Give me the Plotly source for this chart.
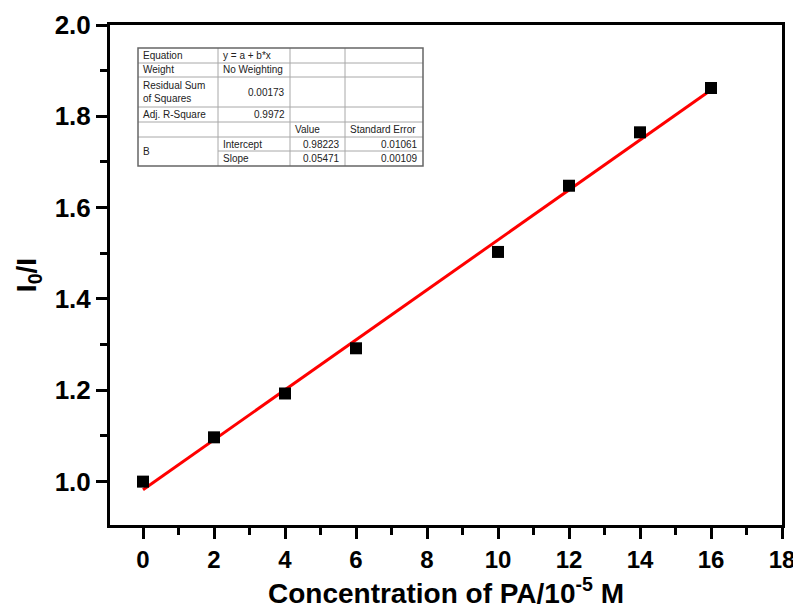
import plotly.graph_objects as go

conc = [0, 2, 4, 6, 10, 12, 14, 16]
ratio = [1.000, 1.097, 1.193, 1.292, 1.503, 1.648, 1.765, 1.862]
intercept = 0.98223
slope = 0.05471
fit_x = [0, 16]
fit_y = [intercept + slope * v for v in fit_x]

x_ticks = list(range(0, 19, 2))
y_ticks = [1.0, 1.2, 1.4, 1.6, 1.8, 2.0]

table_rows = [
    ["Equation", "y = a + b*x", "", ""],
    ["Weight", "No Weighting", "", ""],
    ["Residual Sum<br>of Squares", "0.00173", "", ""],
    ["Adj. R-Square", "0.9972", "", ""],
    ["", "", "Value", "Standard Error"],
    ["B", "Intercept", "0.98223", "0.01061"],
    ["", "Slope", "0.05471", "0.00109"],
]

# page body has an 8px margin: figure sized to fit the 801x609 window
OFF = 8
W, H = 801 - OFF, 609 - OFF
L, R, T, B = 110 - OFF, 782 - OFF, 25 - OFF, 525 - OFF

fig = go.Figure()
fig.add_trace(go.Scatter(x=fit_x, y=fit_y, mode="lines",
                         line=dict(color="#ff0000", width=3), showlegend=False))
fig.add_trace(go.Scatter(x=conc, y=ratio, mode="markers",
                         marker=dict(symbol="square", size=12, color="black"),
                         showlegend=False))

def px(xp):
    return (xp - OFF - L) / (R - L)

def py(yp):
    return (B - (yp - OFF)) / (B - T)

# table geometry (window pixels)
cols = [138, 218, 290, 345, 423]
rows = [48, 63, 77, 107, 122, 137, 151, 166]
shapes = []
grey = "#a8a8a8"
for i, yy in enumerate(rows[1:-1], start=1):
    x0 = cols[1] if i == 6 else cols[0]
    shapes.append(dict(type="line", xref="paper", yref="paper",
                       x0=px(x0), x1=px(cols[-1]), y0=py(yy), y1=py(yy),
                       line=dict(color=grey, width=1)))
for xx in cols[1:-1]:
    shapes.append(dict(type="line", xref="paper", yref="paper",
                       x0=px(xx), x1=px(xx), y0=py(rows[0]), y1=py(rows[-1]),
                       line=dict(color=grey, width=1)))
shapes.append(dict(type="rect", xref="paper", yref="paper",
                   x0=px(cols[0]), x1=px(cols[-1]), y0=py(rows[0]), y1=py(rows[-1]),
                   line=dict(color="#666666", width=1.5), fillcolor="rgba(0,0,0,0)"))

annotations = []
right_cells = {(2, 1), (3, 1), (5, 2), (6, 2), (5, 3), (6, 3)}
for r, row in enumerate(table_rows):
    for c, txt in enumerate(row):
        if not txt:
            continue
        if r == 5 and c == 0:
            yc = (rows[5] + rows[7]) / 2
        else:
            yc = (rows[r] + rows[r + 1]) / 2
        if (r, c) in right_cells:
            xa, anchor = cols[c + 1] - 3, "right"
        else:
            xa, anchor = cols[c] + 3, "left"
        annotations.append(dict(text=txt, xref="paper", yref="paper",
                                x=px(xa), y=py(yc), xanchor=anchor, yanchor="middle",
                                showarrow=False, align="left",
                                font=dict(family="Liberation Sans", size=10, color="#222222")))

fam = "Liberation Sans"
fig.update_layout(
    width=W, height=H,
    margin=dict(l=L, r=W - R, t=T, b=H - B),
    plot_bgcolor="white", paper_bgcolor="white",
    shapes=shapes, annotations=annotations,
    font=dict(family=fam, color="black"),
)
fig.update_xaxes(
    range=[-0.93, 18], tickvals=x_ticks, ticktext=[str(v) for v in x_ticks],
    showline=True, linewidth=3, linecolor="black", mirror=True, automargin=False,
    ticks="outside", ticklen=11, tickwidth=3, tickcolor="black",
    minor=dict(dtick=1, tick0=0, ticks="outside", ticklen=7, tickwidth=3, tickcolor="black"),
    showgrid=False, zeroline=False,
    tickfont=dict(family=fam, size=24, weight="bold", color="black"),
    title=dict(text="Concentration of PA/10<sup>-5</sup> M", standoff=9,
               font=dict(family=fam, size=28, weight="bold", color="black")),
)
fig.update_yaxes(
    range=[0.905, 2.0], tickvals=y_ticks, ticktext=[f"{v:.1f}" for v in y_ticks],
    showline=True, linewidth=3, linecolor="black", mirror=True, automargin=False,
    ticks="outside", ticklen=11, tickwidth=3, tickcolor="black",
    minor=dict(dtick=0.1, tick0=0.9, ticks="outside", ticklen=7, tickwidth=3, tickcolor="black"),
    showgrid=False, zeroline=False,
    tickfont=dict(family=fam, size=26, weight="bold", color="black"),
    title=dict(text="I<sub>0</sub>/I", standoff=10,
               font=dict(family=fam, size=28, weight="bold", color="black")),
)

fig.write_html("out.html")
